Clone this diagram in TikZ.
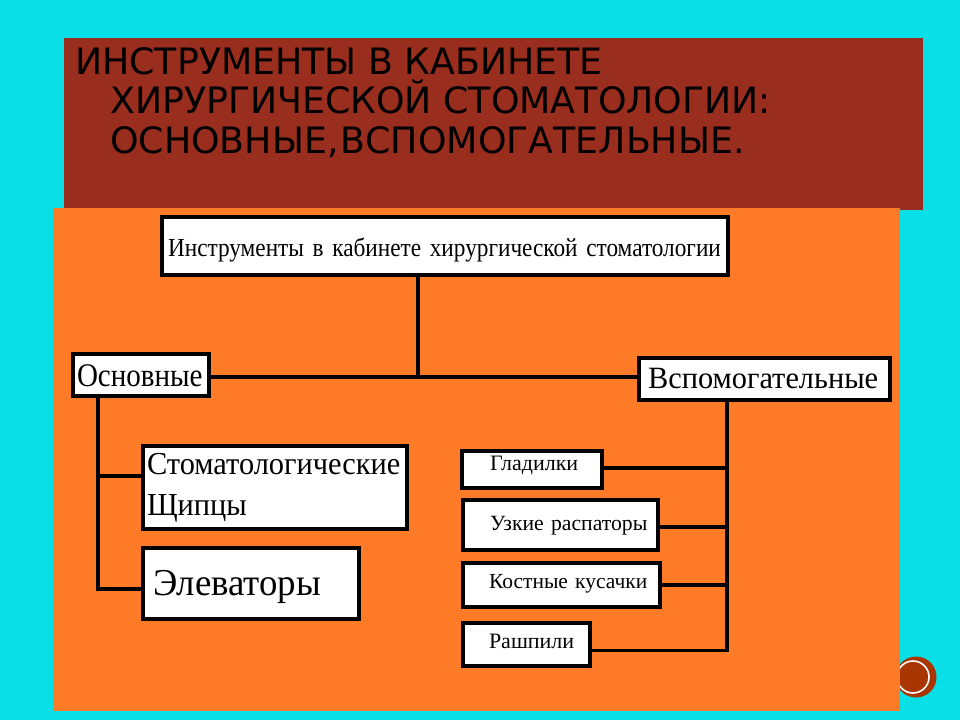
\documentclass[tikz,border=0pt]{standalone}
\usepackage{fontspec}
\setmainfont{Liberation Serif}
\newfontfamily\titlefont{DejaVu Sans}
\newcommand{\boxfont}[2]{\addfontfeature{FakeStretch=#2}\fontsize{#1}{41}\selectfont\fontdimen2\font=0.14em\relax}
\newcommand{\shifted}[2]{\raisebox{#1}[\height][\depth]{#2}}
\definecolor{bgcyan}{HTML}{08DFE6}
\definecolor{titlered}{HTML}{992D1E}
\definecolor{panelorange}{HTML}{FF7B27}
\definecolor{dotred}{HTML}{A93500}
\tikzset{
  every picture/.style={x=1pt,y=-1pt},
  box/.style={draw=black,fill=white,line width=4pt,inner sep=0pt,align=left,anchor=center},
  conn/.style={draw=black,line width=4pt},
  thinconn/.style={draw=black,line width=3pt},
  titletext/.style={anchor=north west,inner sep=0pt,align=left,font=\titlefont\fontsize{36.3}{39.5}\selectfont,text=black}
}
\begin{document}
\begin{tikzpicture}
\useasboundingbox (0,0) rectangle (960,720);
\fill[bgcyan] (0,0) rectangle (960,720);
\fill[dotred] (916,677) circle (20.5);
\draw[white,line width=1.6pt] (913,677) circle (16);
\fill[titlered] (64,38) rectangle (923,210);
\fill[panelorange] (53,208) rectangle (900,711);
\node[titletext] (title) at (75,47) {ИНСТРУМЕНТЫ В КАБИНЕТЕ\\\hspace*{35pt}ХИРУРГИЧЕСКОЙ СТОМАТОЛОГИИ:\\\hspace*{35pt}ОСНОВНЫЕ,\hspace{2pt}ВСПОМОГАТЕЛЬНЫЕ.};
\node[box,text width=566pt,minimum height=58pt,font=\boxfont{26}{0.895}] (top) at (445,246) {\hspace*{6pt}\shifted{-4pt}{Инструменты в кабинете хирургической стоматологии}};
\node[box,text width=136pt,minimum height=42pt,font=\boxfont{33}{0.88}] (osn) at (141,375) {\hspace*{4pt}\shifted{-1pt}{Основные}};
\node[box,text width=251pt,minimum height=42pt,font=\boxfont{31}{0.98}] (vsp) at (764.5,379) {\hspace*{9pt}\shifted{1pt}{Вспомогательные}};
\node[box,text width=264pt,minimum height=83pt,font=\boxfont{32}{0.95}] (stom) at (275,487.5) {\hspace*{4pt}Стоматологические\\\hspace*{4pt}Щипцы};
\node[box,text width=216pt,minimum height=71pt,font=\boxfont{38}{0.97}] (elev) at (251,583.5) {\hspace*{10pt}\shifted{-3pt}{Элеваторы}};
\node[box,text width=140pt,minimum height=37pt,line width=4.5pt,font=\boxfont{22}{1}] (glad) at (532,469.5) {\hspace*{28pt}\shifted{4pt}{Гладилки}};
\node[box,text width=195pt,minimum height=50pt,font=\boxfont{21.7}{1}] (uzk) at (560.5,525) {\hspace*{27pt}\shifted{-1pt}{Узкие распаторы}};
\node[box,text width=197pt,minimum height=44pt,font=\boxfont{21.5}{1}] (kost) at (561.5,585) {\hspace*{26pt}\shifted{1pt}{Костные кусачки}};
\node[box,text width=127pt,minimum height=43pt,font=\boxfont{22}{1}] (rash) at (526.5,644.5) {\hspace*{26pt}\shifted{3pt}{Рашпили}};
\coordinate (jt) at (418,377);
\coordinate (jl) at (98,400);
\coordinate (jr) at (727,404);
\coordinate (jle) at (98,589);
\coordinate (jre) at (727,650);
\draw[conn] (jt |- top.south) -- (jt);
\draw[conn] (osn.east |- jt) -- (vsp.west |- jt);
\draw[conn] (jl |- osn.south) -- (98,591);
\draw[conn] (jr |- vsp.south) -- (727,652);
\draw[conn] (98,476) -- (stom.west |- 0,476);
\draw[conn] (jle) -- (elev.west |- jle);
\draw[conn] (glad.east |- 0,468) -- (jr |- 0,468);
\draw[conn] (uzk.east |- 0,527) -- (jr |- 0,527);
\draw[conn] (kost.east |- 0,585) -- (729,585);
\draw[thinconn] (rash.east |- jre) -- (jre);
\end{tikzpicture}
\end{document}
